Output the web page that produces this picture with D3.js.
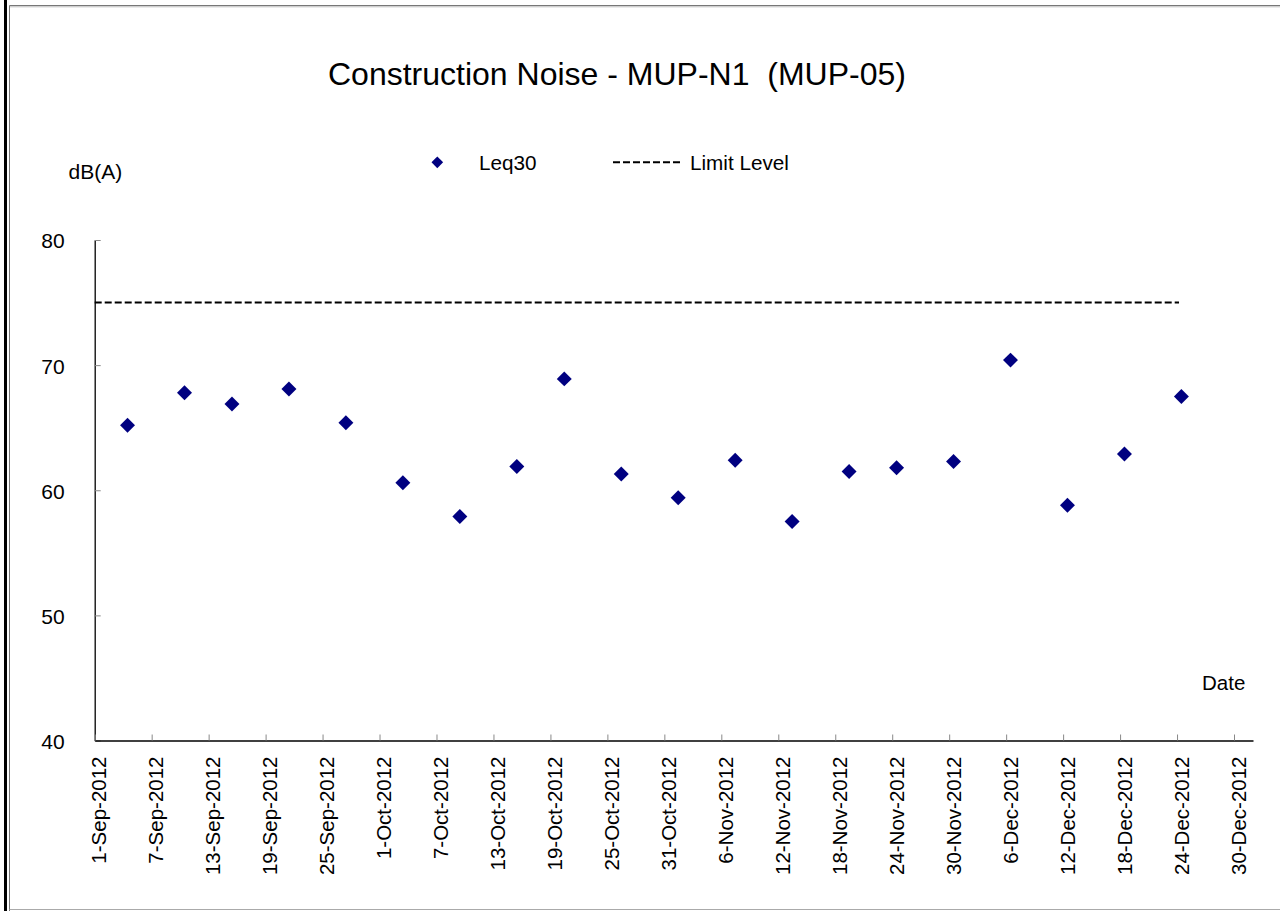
<!DOCTYPE html>
<html>
<head>
<meta charset="utf-8">
<script src="https://cdn.jsdelivr.net/npm/d3@7"></script>
<style>
  body { margin: 0; background: #fff; }
  svg { display: block; font-family: "Liberation Sans", Arial, sans-serif; }
</style>
</head>
<body>
<script>
/* Data */
var sampleDates = ["2012-09-04 11:00", "2012-09-10 11:00", "2012-09-15 11:00", "2012-09-21 11:00",
  "2012-09-27 11:00", "2012-10-03 11:00", "2012-10-09 11:00", "2012-10-15 11:00",
  "2012-10-20 11:00", "2012-10-26 11:00", "2012-11-01 11:00", "2012-11-07 11:00",
  "2012-11-13 11:00", "2012-11-19 11:00", "2012-11-24 11:00", "2012-11-30 11:00",
  "2012-12-06 11:00", "2012-12-12 11:00", "2012-12-18 11:00", "2012-12-24 11:00"];
var leq30 = [65.2, 67.8, 66.9, 68.1, 65.4, 60.6, 57.9, 61.9, 68.9, 61.3,
  59.4, 62.4, 57.5, 61.5, 61.8, 62.3, 70.4, 58.8, 62.9, 67.5];
var limitDates = ["2012-09-01 00:00", "2012-12-24 05:00"];
var limitLevel = 75;
var tickDates = ["2012-09-01", "2012-09-07", "2012-09-13", "2012-09-19", "2012-09-25",
  "2012-10-01", "2012-10-07", "2012-10-13", "2012-10-19", "2012-10-25", "2012-10-31",
  "2012-11-06", "2012-11-12", "2012-11-18", "2012-11-24", "2012-11-30",
  "2012-12-06", "2012-12-12", "2012-12-18", "2012-12-24", "2012-12-30"];
var yTicks = [40, 50, 60, 70, 80];
var xDomain = ["2012-09-01", "2013-01-01"];

/* Constants */
const WIDTH = 1280;
const HEIGHT = 911;
var parseTime = d3.utcParse("%Y-%m-%d %H:%M");
var parseDay = d3.utcParse("%Y-%m-%d");
var fmt = d3.utcFormat("%-d-%b-%Y");

var x = d3.scaleUtc()
    .domain(xDomain.map(parseDay))
    .range([94.7, 1253]);
var y = d3.scaleLinear()
    .domain([40, 80])
    .range([740.5, 240]);

var svg = d3.select("body").append("svg")
    .attr("width", WIDTH)
    .attr("height", HEIGHT);

// frame
svg.append("rect").attr("x", 4).attr("y", 0).attr("width", 3).attr("height", HEIGHT).attr("fill", "#000");
svg.append("path")
    .attr("d", "M9.5,911 V5.5 H1280")
    .attr("fill", "none").attr("stroke", "#777").attr("stroke-width", 1);
svg.append("path")
    .attr("d", "M10,6.8 H1280")
    .attr("fill", "none").attr("stroke", "#bbb").attr("stroke-width", 1);
svg.append("path")
    .attr("d", "M9.5,909.5 H1280")
    .attr("fill", "none").attr("stroke", "#aaa").attr("stroke-width", 1);

// title
svg.append("text")
    .attr("x", 328).attr("y", 85)
    .attr("font-size", 32)
    .attr("xml:space", "preserve")
    .style("white-space", "pre")
    .text("Construction Noise - MUP-N1  (MUP-05)");

// axes
var yAxis = svg.append("g")
    .attr("transform", "translate(94.7,0)")
    .call(d3.axisLeft(y).tickValues(yTicks).tickSizeInner(-6).tickSizeOuter(0).tickPadding(30));
yAxis.selectAll(".tick line").attr("stroke", "#888");
yAxis.selectAll(".tick text").attr("font-size", 21).attr("font-family", null).attr("dy", "0.38em").attr("fill", "#000");
yAxis.select(".domain").attr("stroke", "#000").attr("stroke-width", 1.3);

var xAxis = svg.append("g")
    .attr("transform", "translate(0,740.5)")
    .call(d3.axisBottom(x).tickValues(tickDates.map(parseDay)).tickFormat(fmt)
        .tickSizeInner(-6).tickSizeOuter(0));
xAxis.selectAll(".tick line").attr("stroke", "#888");
xAxis.selectAll(".tick text")
    .attr("font-size", 20.5).attr("font-family", null).attr("fill", "#000")
    .attr("transform", "rotate(-90)")
    .attr("text-anchor", "end")
    .attr("x", -16).attr("y", 4).attr("dy", "0.35em");
xAxis.select(".domain").attr("stroke", "#000").attr("stroke-width", 1.3);

// axis titles
svg.append("text").attr("x", 68.5).attr("y", 179).attr("font-size", 21).text("dB(A)");
svg.append("text").attr("x", 1202).attr("y", 690).attr("font-size", 20.5).text("Date");

// limit line
svg.append("line")
    .attr("x1", x(parseTime(limitDates[0]))).attr("x2", x(parseTime(limitDates[1])))
    .attr("y1", y(limitLevel)).attr("y2", y(limitLevel))
    .attr("stroke", "#000").attr("stroke-width", 2)
    .attr("stroke-dasharray", "7,3");

// points
var diamond = d3.symbol().type(d3.symbolSquare).size(112);
svg.append("g").selectAll("path")
    .data(leq30)
    .join("path")
    .attr("d", diamond)
    .attr("fill", "#000080")
    .attr("transform", (d, i) => "translate(" + x(parseTime(sampleDates[i])) + "," + y(d) + ") rotate(45)");

// legend
svg.append("path")
    .attr("d", d3.symbol().type(d3.symbolSquare).size(68)())
    .attr("fill", "#000080")
    .attr("transform", "translate(437.3,162.3) rotate(45)");
svg.append("text").attr("x", 479).attr("y", 170).attr("font-size", 20.7).text("Leq30");
svg.append("line")
    .attr("x1", 613).attr("x2", 683).attr("y1", 162.3).attr("y2", 162.3)
    .attr("stroke", "#000").attr("stroke-width", 2)
    .attr("stroke-dasharray", "7,3");
svg.append("text").attr("x", 690).attr("y", 170).attr("font-size", 20.7).text("Limit Level");
</script>
</body>
</html>
